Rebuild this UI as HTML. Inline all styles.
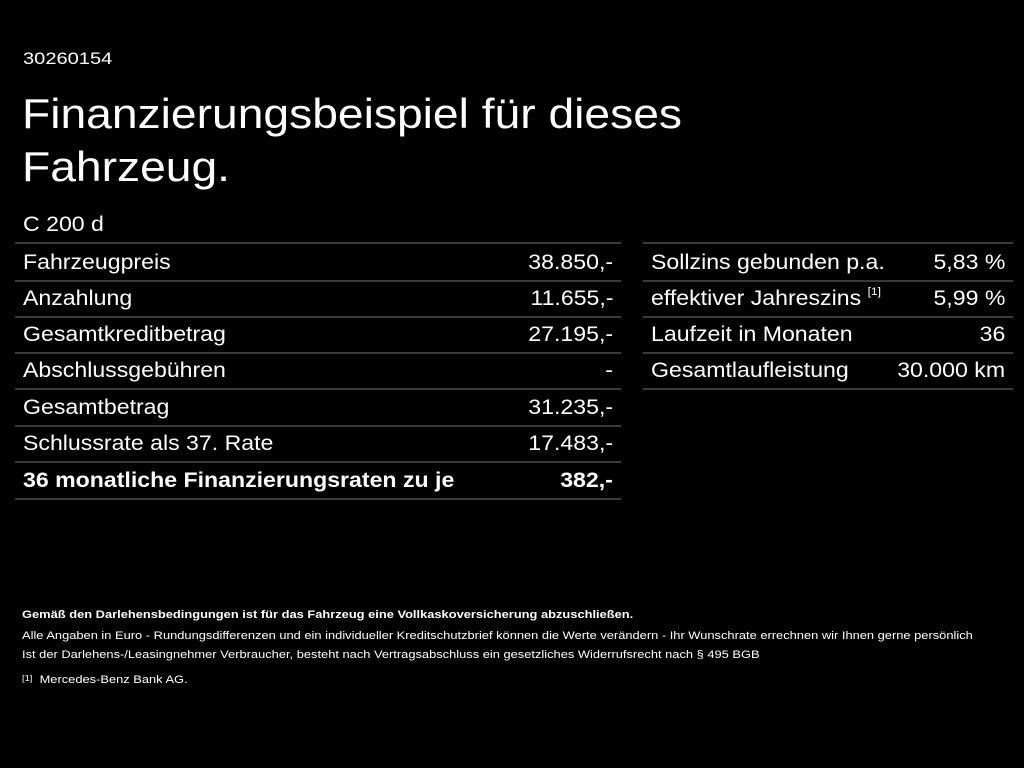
<!DOCTYPE html>
<html><head><meta charset="utf-8"><style>
body{margin:0;width:1024px;height:768px;background:#000;color:#fff;font-family:"Liberation Sans",sans-serif;position:relative;overflow:hidden}
.a{position:absolute;white-space:nowrap;transform-origin:left top}
.row{position:absolute;height:36px;border-bottom:2px solid #3a3a3a;font-size:21px;line-height:38px}
.row span{position:absolute;white-space:nowrap}
.l{left:8px;transform:scaleX(1.1);transform-origin:left center}
.r{right:8px;transform:scaleX(1.1);transform-origin:right center}
sup{font-size:11px;vertical-align:top;line-height:24px}
.f{font-size:11px;transform:scaleX(1.17)}
</style></head><body>
<div class="a" style="left:23px;top:49px;font-size:17px;transform:scaleX(1.18)">30260154</div>
<div class="a" style="left:22px;top:87px;font-size:42px;line-height:53px;transform:scaleX(1.1)">Finanzierungsbeispiel für dieses<br>Fahrzeug.</div>
<div class="a" style="left:23px;top:213px;font-size:21px;transform:scaleX(1.1)">C 200 d</div>
<div class="a" style="left:15px;top:242px;width:606px;border-top:2px solid #3a3a3a"></div>
<div class="row" style="left:15px;width:606px;top:244px"><span class="l">Fahrzeugpreis</span><span class="r">38.850,-</span></div>
<div class="row" style="left:15px;width:606px;top:280px"><span class="l">Anzahlung</span><span class="r">11.655,-</span></div>
<div class="row" style="left:15px;width:606px;top:316px"><span class="l">Gesamtkreditbetrag</span><span class="r">27.195,-</span></div>
<div class="row" style="left:15px;width:606px;top:352px"><span class="l">Abschlussgebühren</span><span class="r">-</span></div>
<div class="row" style="left:15px;width:606px;top:389px"><span class="l">Gesamtbetrag</span><span class="r">31.235,-</span></div>
<div class="row" style="left:15px;width:606px;top:425px"><span class="l">Schlussrate als 37. Rate</span><span class="r">17.483,-</span></div>
<div class="row" style="left:15px;width:606px;top:462px;font-weight:bold"><span class="l">36 monatliche Finanzierungsraten zu je</span><span class="r">382,-</span></div>
<div class="a" style="left:643px;top:242px;width:370px;border-top:2px solid #3a3a3a"></div>
<div class="row" style="left:643px;width:370px;top:244px"><span class="l">Sollzins gebunden p.a.</span><span class="r">5,83 %</span></div>
<div class="row" style="left:643px;width:370px;top:280px"><span class="l">effektiver Jahreszins <sup>[1]</sup></span><span class="r">5,99 %</span></div>
<div class="row" style="left:643px;width:370px;top:316px"><span class="l">Laufzeit in Monaten</span><span class="r">36</span></div>
<div class="row" style="left:643px;width:370px;top:352px"><span class="l">Gesamtlaufleistung</span><span class="r">30.000 km</span></div>
<div class="a f" style="left:22px;top:609px;font-weight:bold">Gemäß den Darlehensbedingungen ist für das Fahrzeug eine Vollkaskoversicherung abzuschließen.</div>
<div class="a f" style="left:22px;top:630px">Alle Angaben in Euro - Rundungsdifferenzen und ein individueller Kreditschutzbrief können die Werte verändern - Ihr Wunschrate errechnen wir Ihnen gerne persönlich</div>
<div class="a f" style="left:22px;top:649px">Ist der Darlehens-/Leasingnehmer Verbraucher, besteht nach Vertragsabschluss ein gesetzliches Widerrufsrecht nach § 495 BGB</div>
<div class="a f" style="left:22px;top:674px"><span style="font-size:8px;vertical-align:top">[1]</span>&nbsp; Mercedes-Benz Bank AG.</div>
</body></html>
